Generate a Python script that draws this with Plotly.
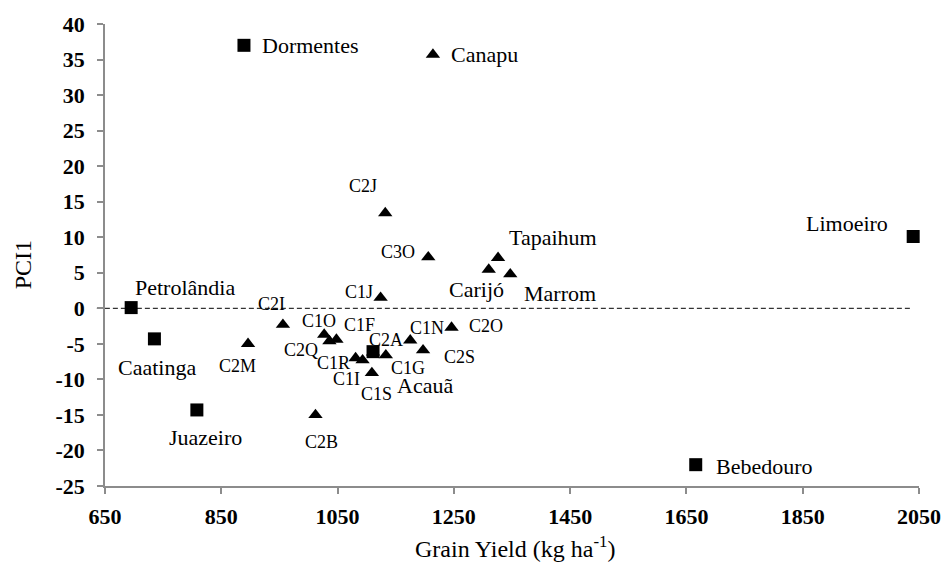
import plotly.graph_objects as go

# ---------------- data ----------------
# square markers
sq_names = ["Dormentes", "Limoeiro", "Bebedouro", "Petrolândia", "Caatinga", "Juazeiro", "Acauã"]
sq_yield = [889, 2040, 1666, 695, 735, 808, 1111]
sq_pc1 = [37.0, 10.1, -22.0, 0.1, -4.3, -14.3, -6.1]

# triangle markers
tri_names = ["Canapu", "C2J", "C3O", "Tapaihum", "Carijó", "Marrom", "C1J", "C2I", "C2M",
             "C1O", "C2Q", "C1F", "C1R", "C1I", "C2A", "C1G", "C1S", "C1N", "C2S", "C2O", "C2B"]
tri_yield = [1214, 1132, 1206, 1326, 1310, 1347, 1124, 956, 896,
             1027, 1036, 1048, 1081, 1093, 1111, 1133, 1109, 1175, 1197, 1246, 1012]
tri_pc1 = [35.7, 13.4, 7.2, 7.1, 5.45, 4.8, 1.5, -2.3, -5.0,
           -3.7, -4.6, -4.4, -7.0, -7.3, -6.2, -6.6, -9.1, -4.5, -5.9, -2.7, -15.0]

# reference (dashed) line at PCI1 = 0
ref_line_x = [636, 2035]
ref_line_y = [0, 0]

x_tick_vals = [650, 850, 1050, 1250, 1450, 1650, 1850, 2050]
x_tick_text = ["650", "850", "1050", "1250", "1450", "1650", "1850", "2050"]
y_tick_vals = [40, 35, 30, 25, 20, 15, 10, 5, 0, -5, -10, -15, -20, -25]
y_tick_text = ["40", "35", "30", "25", "20", "15", "10", "5", "0", "-5", "-10", "-15", "-20", "-25"]

x_range = [650, 2050]
y_range = [-25, 40]

# ---------------- label placement (pixel offsets: dx right, dy down) ----------------
label_offsets = {
    "Dormentes": (67, 0), "Limoeiro": (-66, -13), "Bebedouro": (69, 2),
    "Petrolândia": (54, -20), "Caatinga": (3, 29), "Juazeiro": (9, 28), "Acauã": (52, 34),
    "Canapu": (52, 0), "C2J": (-22, -27), "C3O": (-30, -5), "Tapaihum": (55, -20),
    "Carijó": (-12, 20), "Marrom": (50, 19), "C1J": (-22, -6), "C2I": (-11, -21),
    "C2M": (-11, 22), "C1O": (-5, -14), "C2Q": (-28, 9), "C1F": (23, -15),
    "C1R": (-22, 5), "C1I": (-16, 19), "C2A": (13, -12), "C1G": (22, 13),
    "C1S": (5, 21), "C1N": (17, -12), "C2S": (36, 7), "C2O": (34, -2), "C2B": (6, 27),
}

FONT = "Liberation Serif"
AXIS_COLOR = "#8c8c8c"

W, H = 945, 567
ML, MR, MT, MB = 105, 26, 24, 80.5

fig = go.Figure()

fig.add_trace(go.Scatter(
    x=tri_yield, y=tri_pc1, mode="markers",
    marker=dict(symbol="triangle-up", size=12.5, color="black", line=dict(width=0)),
    hoverinfo="text", text=tri_names, showlegend=False, cliponaxis=False,
))
fig.add_trace(go.Scatter(
    x=sq_yield, y=sq_pc1, mode="markers",
    marker=dict(symbol="square", size=13, color="black", line=dict(width=0)),
    hoverinfo="text", text=sq_names, showlegend=False, cliponaxis=False,
))

annotations = []
for names, xs, ys in ((sq_names, sq_yield, sq_pc1), (tri_names, tri_yield, tri_pc1)):
    for n, xv, yv in zip(names, xs, ys):
        dx, dy = label_offsets[n]
        is_code = n.startswith("C") and any(ch.isdigit() for ch in n)
        annotations.append(dict(
            x=xv, y=yv, xref="x", yref="y", text=n, showarrow=False,
            xanchor="center", yanchor="middle", xshift=dx, yshift=-dy,
            font=dict(family=FONT, size=18 if is_code else 22, color="black"),
        ))

plot_w = W - ML - MR
plot_h = H - MT - MB

# axis titles (positions given in page pixels, converted to paper coords)
annotations.append(dict(
    x=(22.5 - ML) / plot_w, y=(H - MB - 265) / plot_h, xref="paper", yref="paper",
    text="PCI1", showarrow=False, textangle=-90, xanchor="center", yanchor="middle",
    font=dict(family=FONT, size=24, color="black"),
))
annotations.append(dict(
    x=(515 - ML) / plot_w, y=(H - MB - 548) / plot_h, xref="paper", yref="paper",
    text="Grain Yield (kg ha<sup>-1</sup>)", showarrow=False, xanchor="center", yanchor="middle",
    font=dict(family=FONT, size=24, color="black"),
))

def to_paper_x(v):
    return (v - x_range[0]) / (x_range[1] - x_range[0])

def to_paper_y(v):
    return (v - y_range[0]) / (y_range[1] - y_range[0])

shapes = [dict(
    type="line", xref="paper", yref="paper",
    x0=to_paper_x(ref_line_x[0]), x1=to_paper_x(ref_line_x[1]),
    y0=to_paper_y(ref_line_y[0]), y1=to_paper_y(ref_line_y[1]),
    line=dict(color="black", width=1, dash="5px,3px"), layer="below",
)]

tickfont = dict(family=FONT, size=22, color="black", weight="bold")

fig.update_layout(
    width=W, height=H,
    margin=dict(l=ML, r=MR, t=MT, b=MB, autoexpand=False),
    paper_bgcolor="white", plot_bgcolor="white",
    font=dict(family=FONT),
    annotations=annotations, shapes=shapes,
    xaxis=dict(
        range=x_range, tickmode="array", tickvals=x_tick_vals, ticktext=x_tick_text,
        showgrid=False, zeroline=False, showline=True, linecolor=AXIS_COLOR, linewidth=1.5,
        ticks="outside", ticklen=6, tickwidth=1.5, tickcolor=AXIS_COLOR,
        tickfont=tickfont, automargin=False, ticklabelstandoff=4,
    ),
    yaxis=dict(
        range=y_range, tickmode="array", tickvals=y_tick_vals, ticktext=y_tick_text,
        showgrid=False, zeroline=False, showline=True, linecolor=AXIS_COLOR, linewidth=1.5,
        ticks="outside", ticklen=6, tickwidth=1.5, tickcolor=AXIS_COLOR,
        tickfont=tickfont, automargin=False, ticklabelstandoff=8,
    ),
)

# remove the default 8px page margin so the figure fills the 945x567 window exactly
fig.write_html(
    "out.html",
    config={"displayModeBar": False},
    post_script="document.body.style.margin='0';document.body.style.overflow='hidden';",
)
